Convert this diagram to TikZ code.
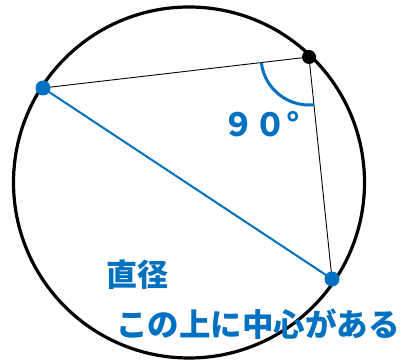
\documentclass[tikz,border=0pt]{standalone}
\usepackage{fontspec}
\newfontfamily\jp{Noto Sans CJK JP}
\usetikzlibrary{angles}
\definecolor{mblue}{RGB}{0,112,192}
\tikzset{
  dot/.style={circle,fill=#1,inner sep=0pt,minimum size=15pt},
  lbl/.style={text=mblue,font=\jp\bfseries,inner sep=0pt},
}
\begin{document}
\begin{tikzpicture}[x=1pt,y=-1pt]
\useasboundingbox (0,0) rectangle (404,363);
\coordinate (O) at (189,182.5);
\draw[line width=3.2pt] (O) circle[radius=175.5];
\coordinate (A) at (43,88);
\coordinate (B) at (309,57);
\coordinate (C) at (332,279);
\draw[line width=0.9pt] (A) -- (B) -- (C);
\draw[mblue,line width=2pt] (A) -- (C);
\pic[draw=mblue,line width=3pt,angle radius=48pt] {angle=A--B--C};
\node[dot=mblue] (a) at (A) {};
\node[dot=black,minimum size=14pt] (b) at (B) {};
\node[dot=mblue] (c) at (C) {};
\node[lbl,font=\jp\bfseries\fontsize{32}{34}\selectfont,anchor=west] (deg) at (222,124) {９０°};
\node[lbl,font=\jp\bfseries\fontsize{31}{33}\selectfont,anchor=west] (d) at (106,275) {直径};
\node[lbl,font=\jp\bfseries\fontsize{31.5}{34}\selectfont,anchor=east] (t) at (400,324) {この上に中心がある};
\end{tikzpicture}
\end{document}
